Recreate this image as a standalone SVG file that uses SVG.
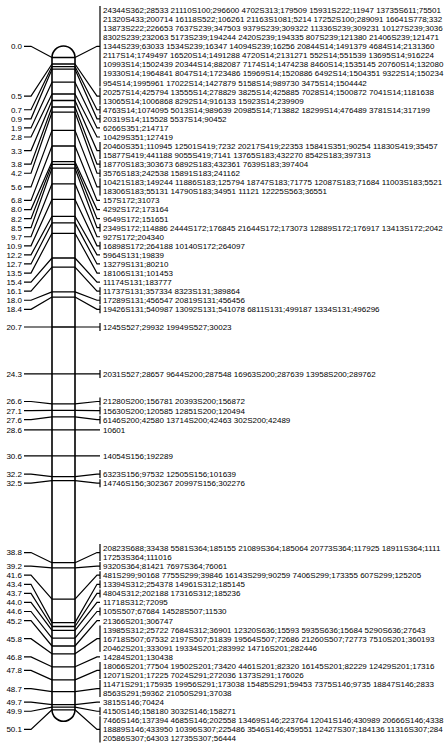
<svg xmlns="http://www.w3.org/2000/svg" width="448" height="749" viewBox="0 0 448 749">
<style>
text{font-family:"Liberation Sans",Arial,sans-serif;font-size:8px;fill:#000}
.p{text-anchor:end}
.c{stroke:#000;stroke-width:1.2;fill:none}
.b{stroke:#000;stroke-width:1.2;fill:none}
.k{stroke:#000;stroke-width:1.3;fill:none}
</style>
<rect width="448" height="749" fill="#fff"/>
<g id="chromosome">
<path d="M52,57.5 A11.5,11.5 0 0 1 75,57.5 V709.8 A11.5,11.5 0 0 1 52,709.8 Z" fill="#fff" stroke="#000" stroke-width="1.6"/>
<path class="k" d="M52,57.5H75M52,64H75M52,66.6H75M52,69.2H75M52,82.2H75M52,94H75M52,100.5H75M52,107H75M52,112.2H75M52,130.4H75M52,146H75M52,161.7H75M52,164.3H75M52,168.2H75M52,183.8H75M52,199.4H75M52,216.3H75M52,222.9H75M52,233.3H75M52,258H75M52,267.1H75M52,291.9H75M52,297.1H75M52,327H75M52,373.9H75M52,403.8H75M52,410.3H75M52,416.9H75M52,429.9H75M52,455.9H75M52,476.7H75M52,480.6H75M52,562.7H75M52,567.9H75M52,599.1H75M52,622.6H75M52,626.5H75M52,630.4H75M52,638.2H75M52,646H75M52,653.8H75M52,666.8H75M52,679.9H75M52,691.6H75M52,704.6H75M52,707.2H75M52,709.8H75"/>
</g>
<g id="connectors" class="c">
<path d="M24,46.28H31L52,57.5M75,57.5L97,46.28H100"/>
<path d="M24,96.17H31L52,64M75,64L97,96.17H100"/>
<path d="M24,109.77H31L52,66.6M75,66.6L97,109.77H100"/>
<path d="M24,118.84H31L52,69.2M75,69.2L97,118.84H100"/>
<path d="M24,127.91H31L52,82.2M75,82.2L97,127.91H100"/>
<path d="M24,136.98H31L52,94M75,94L97,136.98H100"/>
<path d="M24,150.59H31L52,100.5M75,100.5L97,150.59H100"/>
<path d="M24,164.19H31L52,107M75,107L97,164.19H100"/>
<path d="M24,173.26H31L52,112.2M75,112.2L97,173.26H100"/>
<path d="M24,186.87H31L52,130.4M75,130.4L97,186.87H100"/>
<path d="M24,200.47H31L52,146M75,146L97,200.47H100"/>
<path d="M24,209.54H31L52,161.7M75,161.7L97,209.54H100"/>
<path d="M24,218.61H31L52,164.3M75,164.3L97,218.61H100"/>
<path d="M24,227.68H31L52,168.2M75,168.2L97,227.68H100"/>
<path d="M24,236.75H31L52,183.8M75,183.8L97,236.75H100"/>
<path d="M24,245.82H31L52,199.4M75,199.4L97,245.82H100"/>
<path d="M24,254.89H31L52,216.3M75,216.3L97,254.89H100"/>
<path d="M24,263.96H31L52,222.9M75,222.9L97,263.96H100"/>
<path d="M24,273.03H31L52,233.3M75,233.3L97,273.03H100"/>
<path d="M24,282.1H31L52,258M75,258L97,282.1H100"/>
<path d="M24,291.17H31L52,267.1M75,267.1L97,291.17H100"/>
<path d="M24,300.24H31L52,291.9M75,291.9L97,300.24H100"/>
<path d="M24,309.31H31L52,297.1M75,297.1L97,309.31H100"/>
<path d="M24,327H52M75,327H100"/>
<path d="M24,373.9H52M75,373.9H100"/>
<path d="M24,401.5H31L52,403.8M75,403.8L97,401.5H100"/>
<path d="M24,410.6H31L52,410.3M75,410.3L97,410.6H100"/>
<path d="M24,419.7H31L52,416.9M75,416.9L97,419.7H100"/>
<path d="M24,429.9H52M75,429.9H100"/>
<path d="M24,455.9H52M75,455.9H100"/>
<path d="M24,474.1H31L52,476.7M75,476.7L97,474.1H100"/>
<path d="M24,483.2H31L52,480.6M75,480.6L97,483.2H100"/>
<path d="M24,552.54H31L52,562.7M75,562.7L97,552.54H100"/>
<path d="M24,566.14H31L52,567.9M75,567.9L97,566.14H100"/>
<path d="M24,575.21H31L52,599.1M75,599.1L97,575.21H100"/>
<path d="M24,584.28H31L52,622.6M75,622.6L97,584.28H100"/>
<path d="M24,593.35H31L52,626.5M75,626.5L97,593.35H100"/>
<path d="M24,602.42H31L52,630.4M75,630.4L97,602.42H100"/>
<path d="M24,611.49H31L52,638.2M75,638.2L97,611.49H100"/>
<path d="M24,620.56H31L52,646M75,646L97,620.56H100"/>
<path d="M24,638.7H31L52,653.8M75,653.8L97,638.7H100"/>
<path d="M24,656.84H31L52,666.8M75,666.8L97,656.84H100"/>
<path d="M24,670.45H31L52,679.9M75,679.9L97,670.45H100"/>
<path d="M24,688.59H31L52,691.6M75,691.6L97,688.59H100"/>
<path d="M24,702.19H31L52,704.6M75,704.6L97,702.19H100"/>
<path d="M24,711.26H31L52,707.2M75,707.2L97,711.26H100"/>
<path d="M24,729.4H31L52,709.8M75,709.8L97,729.4H100"/>
</g>
<g id="locus-0.0"><text class="p" x="22" y="49.2">0.0</text><path class="b" d="M100,6V86.6"/>
<text x="103" y="12.9">24344S362;28533 21110S100;296600 4702S313;179509 15931S222;11947 13735S611;75501</text>
<text x="103" y="22">21320S433;200714 16118S522;106261 21163S1081;5214 17252S100;289091 16641S778;332</text>
<text x="103" y="31">13873S222;226653 7637S239;347503 9379S239;309322 11336S239;309231 10127S239;3036</text>
<text x="103" y="40.1">8302S239;232063 5173S239;194244 2420S239;194335 807S239;121380 21406S239;121471</text>
<text x="103" y="49.2">1344S239;63033 1534S239;16347 14094S239;16256 20844S14;1491379 4684S14;2131360</text>
<text x="103" y="58.3">2117S14;1749497 16520S14;1491288 4720S14;2131271 552S14;551539 13695S14;916224</text>
<text x="103" y="67.3">10993S14;1502439 20344S14;882087 7174S14;1474238 8460S14;1535145 20760S14;132080</text>
<text x="103" y="76.4">19330S14;1964841 8047S14;1723486 15969S14;1520886 6492S14;1504351 9322S14;150234</text>
<text x="103" y="85.5">954S14;1995961 17022S14;1427879 5158S14;989730 3475S14;1504442</text></g>
<g id="locus-0.5"><text class="p" x="22" y="99.1">0.5</text><path class="b" d="M100,87.6V104.7"/>
<text x="103" y="94.5">20257S14;425794 13555S14;278829 3825S14;425885 7028S14;1500872 7041S14;1181638</text>
<text x="103" y="103.6">13065S14;1006868 8292S14;916133 15923S14;239909</text></g>
<g id="locus-0.7"><text class="p" x="22" y="112.7">0.7</text><path class="b" d="M100,105.8V113.8"/>
<text x="103" y="112.7">4763S14;1074095 5013S14;989639 20985S14;713882 18299S14;476489 3781S14;317199</text></g>
<g id="locus-0.9"><text class="p" x="22" y="121.7">0.9</text><path class="b" d="M100,114.8V122.8"/>
<text x="103" y="121.7">20319S14;115528 5537S14;90452</text></g>
<g id="locus-1.9"><text class="p" x="22" y="130.8">1.9</text>
<text x="103" y="130.8">6266S351;214717</text></g>
<g id="locus-2.8"><text class="p" x="22" y="139.9">2.8</text>
<text x="103" y="139.9">10429S351;127419</text></g>
<g id="locus-3.3"><text class="p" x="22" y="153.5">3.3</text><path class="b" d="M100,142V159.1"/>
<text x="103" y="149">20460S351;110945 12501S419;7232 20217S419;22353 15841S351;90254 11830S419;35457</text>
<text x="103" y="158">15877S419;441188 9055S419;7141 13765S183;432270 8542S183;397313</text></g>
<g id="locus-3.8"><text class="p" x="22" y="167.1">3.8</text><path class="b" d="M100,160.2V168.2"/>
<text x="103" y="167.1">18770S183;303673 6892S183;432361 7639S183;397404</text></g>
<g id="locus-4.2"><text class="p" x="22" y="176.2">4.2</text><path class="b" d="M100,169.3V177.3"/>
<text x="103" y="176.2">3576S183;242538 15891S183;241162</text></g>
<g id="locus-5.6"><text class="p" x="22" y="189.8">5.6</text><path class="b" d="M100,178.3V195.4"/>
<text x="103" y="185.2">10421S183;149244 11886S183;125794 18747S183;71775 12087S183;71684 11003S183;5521</text>
<text x="103" y="194.3">18306S183;55131 14790S183;34951 11121 12225S563;36551</text></g>
<g id="locus-6.8"><text class="p" x="22" y="203.4">6.8</text>
<text x="103" y="203.4">157S172;31073</text></g>
<g id="locus-8.0"><text class="p" x="22" y="212.4">8.0</text>
<text x="103" y="212.4">4292S172;173164</text></g>
<g id="locus-8.2"><text class="p" x="22" y="221.5">8.2</text>
<text x="103" y="221.5">9649S172;151651</text></g>
<g id="locus-8.5"><text class="p" x="22" y="230.6">8.5</text><path class="b" d="M100,223.7V231.7"/>
<text x="103" y="230.6">2349S172;114886 2444S172;176845 21644S172;173073 12889S172;176917 13413S172;2042</text></g>
<g id="locus-9.7"><text class="p" x="22" y="239.7">9.7</text>
<text x="103" y="239.7">927S172;204340</text></g>
<g id="locus-10.9"><text class="p" x="22" y="248.7">10.9</text><path class="b" d="M100,241.8V249.8"/>
<text x="103" y="248.7">16898S172;264188 10140S172;264097</text></g>
<g id="locus-12.2"><text class="p" x="22" y="257.8">12.2</text>
<text x="103" y="257.8">5964S131;19839</text></g>
<g id="locus-12.7"><text class="p" x="22" y="266.9">12.7</text>
<text x="103" y="266.9">13279S131;80210</text></g>
<g id="locus-13.5"><text class="p" x="22" y="275.9">13.5</text>
<text x="103" y="275.9">18106S131;101453</text></g>
<g id="locus-15.4"><text class="p" x="22" y="285">15.4</text>
<text x="103" y="285">11174S131;183777</text></g>
<g id="locus-16.1"><text class="p" x="22" y="294.1">16.1</text><path class="b" d="M100,287.2V295.2"/>
<text x="103" y="294.1">11737S131;357334 8323S131;389864</text></g>
<g id="locus-18.0"><text class="p" x="22" y="303.1">18.0</text><path class="b" d="M100,296.2V304.2"/>
<text x="103" y="303.1">17289S131;456547 20819S131;456456</text></g>
<g id="locus-18.4"><text class="p" x="22" y="312.2">18.4</text><path class="b" d="M100,305.3V313.3"/>
<text x="103" y="312.2">19426S131;540987 13092S131;541078 6811S131;499187 1334S131;496296</text></g>
<g id="locus-20.7"><text class="p" x="22" y="329.9">20.7</text><path class="b" d="M100,323V331"/>
<text x="103" y="329.9">1245S527;29932 19949S527;30023</text></g>
<g id="locus-24.3"><text class="p" x="22" y="376.8">24.3</text><path class="b" d="M100,369.9V377.9"/>
<text x="103" y="376.8">2031S527;28657 9644S200;287548 16963S200;287639 13958S200;289762</text></g>
<g id="locus-26.6"><text class="p" x="22" y="404.4">26.6</text><path class="b" d="M100,397.5V405.5"/>
<text x="103" y="404.4">21280S200;156781 20393S200;156872</text></g>
<g id="locus-27.1"><text class="p" x="22" y="413.5">27.1</text><path class="b" d="M100,406.6V414.6"/>
<text x="103" y="413.5">15630S200;120585 12851S200;120494</text></g>
<g id="locus-27.6"><text class="p" x="22" y="422.6">27.6</text><path class="b" d="M100,415.7V423.7"/>
<text x="103" y="422.6">6146S200;42580 13714S200;42463 302S200;42489</text></g>
<g id="locus-28.6"><text class="p" x="22" y="432.8">28.6</text>
<text x="103" y="432.8">10601</text></g>
<g id="locus-30.6"><text class="p" x="22" y="458.8">30.6</text>
<text x="103" y="458.8">14054S156;192289</text></g>
<g id="locus-32.2"><text class="p" x="22" y="477">32.2</text><path class="b" d="M100,470.1V478.1"/>
<text x="103" y="477">6323S156;97532 12505S156;101639</text></g>
<g id="locus-32.5"><text class="p" x="22" y="486.1">32.5</text><path class="b" d="M100,479.2V487.2"/>
<text x="103" y="486.1">14746S156;302367 20997S156;302276</text></g>
<g id="locus-38.8"><text class="p" x="22" y="555.4">38.8</text><path class="b" d="M100,544V561.1"/>
<text x="103" y="550.9">20823S688;33438 5581S364;185155 21089S364;185064 20773S364;117925 18911S364;1111</text>
<text x="103" y="560">17253S364;111016</text></g>
<g id="locus-39.2"><text class="p" x="22" y="569">39.2</text><path class="b" d="M100,562.1V570.1"/>
<text x="103" y="569">9320S364;81421 7697S364;76061</text></g>
<g id="locus-41.6"><text class="p" x="22" y="578.1">41.6</text><path class="b" d="M100,571.2V579.2"/>
<text x="103" y="578.1">481S299;90168 7755S299;39846 16143S299;90259 7406S299;173355 607S299;125205</text></g>
<g id="locus-43.4"><text class="p" x="22" y="587.2">43.4</text><path class="b" d="M100,580.3V588.3"/>
<text x="103" y="587.2">13394S312;254378 14961S312;185145</text></g>
<g id="locus-43.7"><text class="p" x="22" y="596.3">43.7</text><path class="b" d="M100,589.4V597.4"/>
<text x="103" y="596.3">4804S312;202188 17316S312;185236</text></g>
<g id="locus-44.0"><text class="p" x="22" y="605.3">44.0</text>
<text x="103" y="605.3">11718S312;72095</text></g>
<g id="locus-44.6"><text class="p" x="22" y="614.4">44.6</text><path class="b" d="M100,607.5V615.5"/>
<text x="103" y="614.4">105S507;67684 14528S507;11530</text></g>
<g id="locus-45.2"><text class="p" x="22" y="623.5">45.2</text>
<text x="103" y="623.5">21366S201;306747</text></g>
<g id="locus-45.8"><text class="p" x="22" y="641.6">45.8</text><path class="b" d="M100,625.6V651.8"/>
<text x="103" y="632.5">13985S312;25722 7684S312;36901 12320S636;15593 5935S636;15684 5290S636;27643</text>
<text x="103" y="641.6">16718S507;67532 2197S507;51839 19564S507;72686 21260S507;72773 7510S201;360193</text>
<text x="103" y="650.7">20462S201;333091 19334S201;283992 14716S201;282446</text></g>
<g id="locus-46.8"><text class="p" x="22" y="659.7">46.8</text>
<text x="103" y="659.7">14284S201;130438</text></g>
<g id="locus-47.8"><text class="p" x="22" y="673.4">47.8</text><path class="b" d="M100,661.9V679"/>
<text x="103" y="668.8">18066S201;77504 19502S201;73420 4461S201;82320 16145S201;82229 12429S201;17316</text>
<text x="103" y="677.9">12071S201;17225 7024S291;272036 1373S291;176026</text></g>
<g id="locus-48.7"><text class="p" x="22" y="691.5">48.7</text><path class="b" d="M100,680V697.1"/>
<text x="103" y="687">11471S291;175935 19956S291;173038 15485S291;59453 7375S146;9735 18847S146;2833</text>
<text x="103" y="696">8563S291;59362 21050S291;37038</text></g>
<g id="locus-49.7"><text class="p" x="22" y="705.1">49.7</text>
<text x="103" y="705.1">3815S146;70424</text></g>
<g id="locus-49.9"><text class="p" x="22" y="714.2">49.9</text><path class="b" d="M100,707.3V715.3"/>
<text x="103" y="714.2">4150S146;158180 3032S146;158271</text></g>
<g id="locus-50.1"><text class="p" x="22" y="732.3">50.1</text><path class="b" d="M100,716.3V742.5"/>
<text x="103" y="723.2">7466S146;137394 4685S146;202558 13469S146;223764 12041S146;430989 20666S146;4338</text>
<text x="103" y="732.3">18889S146;433950 10396S307;225486 3546S146;459551 12427S307;184136 11316S307;284</text>
<text x="103" y="741.4">20586S307;64303 12735S307;56444</text></g>
</svg>
